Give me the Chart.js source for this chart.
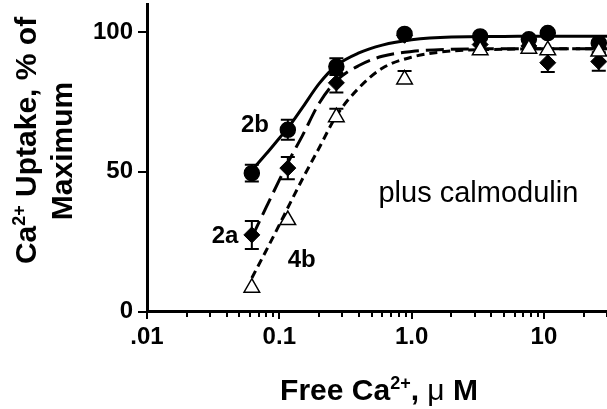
<!DOCTYPE html>
<html>
<head>
<meta charset="utf-8">
<script src="https://cdn.jsdelivr.net/npm/chart.js@4.4.1/dist/chart.umd.min.js"></script>
<style>
  html, body { margin: 0; padding: 0; background: #fff; }
</style>
</head>
<body>
<canvas id="chart" width="607" height="409"></canvas>
<script>
// free Ca2+ (uM) at which uptake was measured
const conc = [0.062, 0.116, 0.27, 0.885, 3.3, 7.7, 10.7, 26];
const uptake2b = [49.5, 65, 87.6, 99.3, 98.4, 97.4, 99.6, 96];
const err2b = [3, 3.6, 3, 0, 0, 0, 0, 0];
const uptake2a = [27.4, 51.3, 81.8, 98.8, 95.5, 95, 89, 89.4];
const err2a = [5, 4, 3.5, 0, 0, 0, 3.3, 3.3];
const uptake4b = [8.5, 32.7, 69.5, 83, 93.5, 94, 93.5, 93];
const err4b = [0, 0, 3, 3, 0, 0, 0, 0];

// fitted curves
const fitConc = [0.062, 0.08, 0.1, 0.12, 0.15, 0.2, 0.27, 0.4, 0.6, 1, 2, 5, 10, 30];
const fit2b = [50.5, 56.5, 62, 66.5, 73, 81.5, 88, 92.5, 95.3, 97.2, 98.2, 98.4, 98.5, 98.5];
const fit2a = [26.5, 37.5, 47, 54.5, 63, 74.5, 82.5, 88, 91.3, 93, 93.8, 94, 94, 94];
const fit4b = [12, 22, 31, 38.5, 47.5, 58.5, 70, 80, 87, 91, 93.2, 93.8, 94, 94];

const xTicks = [0.01, 0.1, 1, 10];
const xTickLabels = ['.01', '0.1', '1.0', '10'];
const yTicks = [0, 50, 100];

const FONT = "'Liberation Sans', Arial, Helvetica, sans-serif";

const pts = (xs, ys) => xs.map((v, i) => ({ x: v, y: ys[i] }));

// every decade gets minor ticks at 2..9
function logTickValues(min, max) {
  const out = [];
  xTicks.forEach(d => {
    for (let m = 1; m <= 9; m++) {
      const v = +(d * m).toPrecision(3);
      if (v >= min && v <= max) out.push(v);
    }
  });
  return out;
}

function drawRich(ctx, parts, x, y) {
  let w = 0;
  parts.forEach(p => { ctx.font = p.font; w += ctx.measureText(p.t).width; });
  let cx = x - w / 2;
  parts.forEach(p => {
    ctx.font = p.font;
    ctx.fillText(p.t, cx, y - (p.rise || 0));
    cx += ctx.measureText(p.t).width;
  });
}

const bold30 = 'bold 30px ' + FONT;
const sup = 'bold 18px ' + FONT;

const decor = {
  id: 'decor',
  beforeDatasetsDraw(chart) {
    const { ctx, scales: { x, y } } = chart;
    ctx.save();
    ctx.strokeStyle = '#000';
    ctx.lineWidth = 2;
    chart.data.datasets.forEach(ds => {
      if (!ds.errors) return;
      ds.data.forEach((p, i) => {
        const e = ds.errors[i];
        if (!e) return;
        const px = x.getPixelForValue(p.x);
        const top = y.getPixelForValue(p.y + e);
        const bot = y.getPixelForValue(ds.upOnly ? p.y : p.y - e);
        ctx.beginPath();
        ctx.moveTo(px, top); ctx.lineTo(px, bot);
        ctx.moveTo(px - 7, top); ctx.lineTo(px + 7, top);
        if (!ds.upOnly) { ctx.moveTo(px - 7, bot); ctx.lineTo(px + 7, bot); }
        ctx.stroke();
      });
    });
    ctx.restore();
  },
  afterDraw(chart) {
    const { ctx, chartArea: a, scales: { x, y } } = chart;
    ctx.save();
    ctx.strokeStyle = '#000';
    ctx.fillStyle = '#000';
    ctx.lineWidth = 2;

    // tick marks
    ctx.beginPath();
    logTickValues(x.min, x.max).forEach(v => {
      const px = Math.round(x.getPixelForValue(v));
      const len = xTicks.includes(v) ? 7.5 : 5.5;
      ctx.moveTo(px, a.bottom); ctx.lineTo(px, a.bottom + len);
    });
    yTicks.forEach(v => {
      const py = Math.round(y.getPixelForValue(v));
      ctx.moveTo(a.left - 9, py); ctx.lineTo(a.left, py);
    });
    ctx.stroke();

    // axis titles
    ctx.textAlign = 'left';
    ctx.textBaseline = 'alphabetic';
    drawRich(ctx, [
      { t: 'Free Ca', font: bold30 },
      { t: '2+', font: sup, rise: 11 },
      { t: ', ', font: bold30 },
      { t: '\u03bc', font: '30px ' + FONT },
      { t: ' M', font: bold30 }
    ], 379, 400);

    ctx.save();
    ctx.translate(36, 140.5);
    ctx.rotate(-Math.PI / 2);
    drawRich(ctx, [
      { t: 'Ca', font: bold30 },
      { t: '2+', font: sup, rise: 11 },
      { t: ' Uptake, % of', font: bold30 }
    ], 0, 0);
    ctx.restore();
    ctx.save();
    ctx.translate(71.5, 151);
    ctx.rotate(-Math.PI / 2);
    drawRich(ctx, [{ t: 'Maximum', font: bold30 }], 0, 0);
    ctx.restore();

    // curve labels
    ctx.textAlign = 'center';
    ctx.textBaseline = 'middle';
    ctx.font = 'bold 24px ' + FONT;
    [['2b', 0.0655, 66.7], ['2a', 0.0389, 27], ['4b', 0.1476, 18.4]].forEach(([t, vx, vy]) => {
      ctx.fillText(t, x.getPixelForValue(vx), y.getPixelForValue(vy));
    });
    ctx.textBaseline = 'alphabetic';
    ctx.font = '29px ' + FONT;
    ctx.fillText('plus calmodulin', x.getPixelForValue(3.2), y.getPixelForValue(39.3));
    ctx.restore();
  }
};

const curve = (data, dash, order) => ({
  type: 'scatter',
  data,
  showLine: true,
  borderColor: '#000',
  borderWidth: 3,
  borderDash: dash,
  pointRadius: 0,
  cubicInterpolationMode: 'monotone',
  order
});

new Chart(document.getElementById('chart'), {
  type: 'scatter',
  data: {
    datasets: [
      curve(pts(fitConc, fit2b), [], 10),
      curve(pts(fitConc, fit2a), [18, 7], 11),
      curve(pts(fitConc, fit4b), [8, 5], 12),
      {
        label: '2a',
        data: pts(conc, uptake2a),
        errors: err2a,
        pointStyle: 'rectRot',
        pointRadius: 8,
        backgroundColor: '#000',
        borderColor: '#000',
        borderWidth: 1,
        order: 3
      },
      {
        label: '2b',
        data: pts(conc, uptake2b),
        errors: err2b,
        pointStyle: 'circle',
        pointRadius: 7.5,
        backgroundColor: '#000',
        borderColor: '#000',
        borderWidth: 1.5,
        order: 2
      },
      {
        label: '4b',
        data: pts(conc, uptake4b),
        errors: err4b,
        upOnly: true,
        pointStyle: 'triangle',
        pointRadius: 9,
        backgroundColor: '#fff',
        borderColor: '#000',
        borderWidth: 1.5,
        order: 1
      }
    ]
  },
  options: {
    responsive: false,
    animation: false,
    events: [],
    layout: { autoPadding: false, padding: { top: 4, left: 0, right: 0, bottom: 0 } },
    plugins: { legend: { display: false }, tooltip: { enabled: false } },
    scales: {
      x: {
        type: 'logarithmic',
        min: 0.01,
        max: 30,
        afterBuildTicks: s => { s.ticks = logTickValues(0.01, 30).map(v => ({ value: v })); },
        afterFit: s => { s.height = 97.5; s.paddingLeft = 0; s.paddingRight = 0; },
        grid: { display: true, drawOnChartArea: false, drawTicks: false },
        border: { display: true, color: '#000', width: 3 },
        ticks: {
          autoSkip: false,
          maxRotation: 0,
          padding: 11,
          color: '#000',
          font: { family: FONT, size: 24, weight: 'bold' },
          callback: v => {
            const i = xTicks.indexOf(v);
            return i >= 0 ? xTickLabels[i] : '';
          }
        }
      },
      y: {
        min: 0,
        max: 110,
        afterBuildTicks: s => { s.ticks = yTicks.map(v => ({ value: v })); },
        afterFit: s => { s.width = 147; s.paddingTop = 0; s.paddingBottom = 0; },
        grid: { display: true, drawOnChartArea: false, drawTicks: false },
        border: { display: true, color: '#000', width: 3 },
        ticks: {
          padding: 14,
          color: '#000',
          font: { family: FONT, size: 24, weight: 'bold' }
        }
      }
    }
  },
  plugins: [decor]
});
</script>
</body>
</html>
